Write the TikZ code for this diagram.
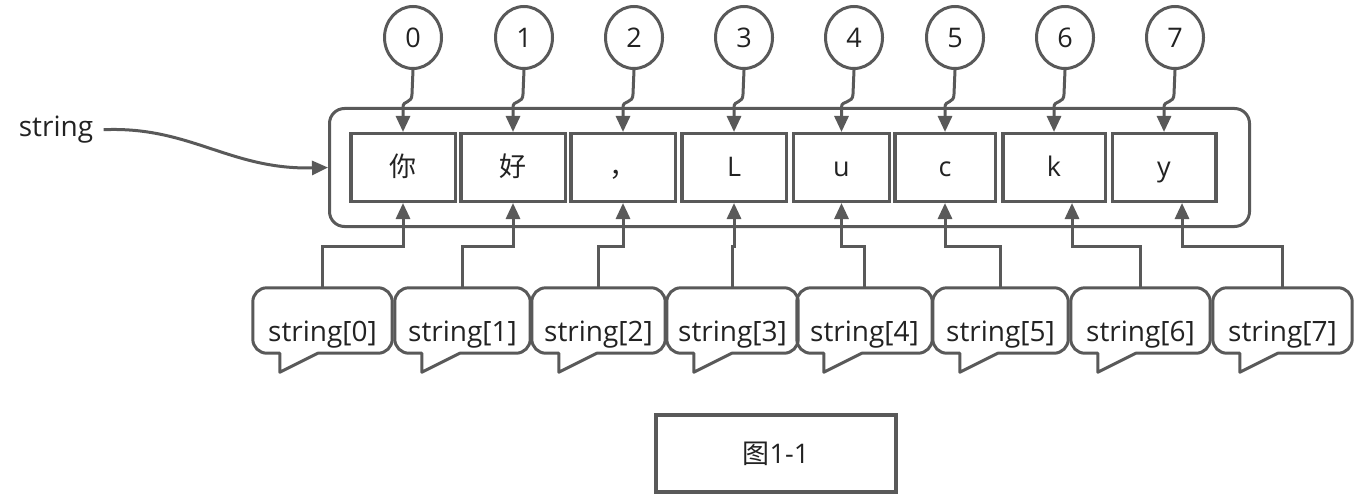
\documentclass[tikz,border=0pt]{standalone}
\usepackage{fontspec}
\setmainfont{Open Sans}
\newfontfamily\cjk{Noto Sans CJK SC}
\usetikzlibrary{arrows.meta,shapes.geometric}
\definecolor{ln}{HTML}{595959}
\definecolor{tx}{HTML}{222222}
\tikzset{
  x=1pt,y=1pt,
  every node/.style={text=tx,font=\fontsize{27}{32}\selectfont},
  idx/.style={draw=ln,line width=3pt,ellipse,minimum width=57pt,minimum height=62pt,inner sep=0pt},
  cell/.style={draw=ln,line width=3.5pt,rectangle,minimum height=67.5pt,inner sep=0pt,text height=25pt,text depth=6pt},
  frame/.style={draw=ln,line width=3pt,rectangle,rounded corners=15pt,minimum width=920pt,minimum height=118pt},
  conn/.style={draw=ln,line width=3pt,-{Triangle[length=16pt,width=14pt]}},
  bubble/.style={rectangle,minimum height=65pt,inner sep=0pt,text height=44pt,text depth=2pt,font=\fontsize{28}{32}\selectfont},
  bline/.style={draw=ln,line width=3pt,line join=round},
  capbox/.style={draw=ln,line width=4pt,rectangle,minimum width=240pt,minimum height=77pt},
}
\newcommand{\bubbleoutline}[1]{%
  \path[bline] ([xshift=14pt]#1.north west) -- ([xshift=-14pt]#1.north east)
    arc[start angle=90,end angle=0,radius=14pt] -- ([yshift=14pt]#1.south east)
    arc[start angle=0,end angle=-90,radius=14pt] -- ([xshift=65pt]#1.south west)
    -- ([xshift=27pt,yshift=-19pt]#1.south west) -- ([xshift=27pt]#1.south west)
    -- ([xshift=14pt]#1.south west)
    arc[start angle=270,end angle=180,radius=14pt] -- ([yshift=-14pt]#1.north west)
    arc[start angle=180,end angle=90,radius=14pt] -- cycle;}
\begin{document}
\begin{tikzpicture}
\useasboundingbox (0,0) rectangle (1364,-497);
% frame
\node[frame] (arr) at (789.5,-167.5) {};
% cells
\node[cell,minimum width=104.5pt] (c0) at (403,-167.5) {\cjk 你};
\node[cell,minimum width=104.5pt] (c1) at (513,-167.5) {\cjk 好};
\node[cell,minimum width=104.5pt] (c2) at (623,-167.5) {\cjk ，};
\node[cell,minimum width=104.5pt] (c3) at (734,-167.5) {L};
\node[cell,minimum width=96pt] (c4) at (841.5,-167.5) {u};
\node[cell,minimum width=100.5pt] (c5) at (945,-167.5) {c};
\node[cell,minimum width=102.5pt] (c6) at (1054,-167.5) {k};
\node[cell,minimum width=103.5pt] (c7) at (1164,-167.5) {y};
% index circles
\foreach \i/\x in {0/413,1/524,2/634,3/744,4/854,5/955,6/1065,7/1175}{
  \node[idx] (t\i) at (\x,-37.5) {\i};
  \draw[conn] (t\i.south) -- ++(-1,-24) .. controls +(0,-10) and +(0,7) .. ([yshift=25pt]c\i.north) -- (c\i.north);
}
% label string
\node[font=\fontsize{28}{32}\selectfont] (lbl) at (56,-130) {string};
\draw[conn,shorten <=7pt] (lbl.east) .. controls (190,-126) and (230,-170) .. (arr.west);
% bubbles
\foreach \i/\l/\r in {0/253/392,1/395/530,2/532/665,3/667/798,4/797/932,5/933/1068,6/1071/1210,7/1213/1352}{
  \pgfmathsetmacro{\w}{\r-\l}
  \pgfmathsetmacro{\cx}{(\r+\l)/2}
  \node[bubble,minimum width=\w pt] (s\i) at (\cx,-320.5) {string[\i]};
  \bubbleoutline{s\i}
}
% bubble connectors
\foreach \i in {0,1,2,3,4,5}{
  \draw[conn] (s\i.north) |- ([yshift=-43pt]c\i.south) -- (c\i.south);
}
\draw[conn] (s6.north) |- ([xshift=18pt,yshift=-43pt]c6.south) -- ([xshift=18pt]c6.south);
\draw[conn] (s7.north) |- ([xshift=18pt,yshift=-43pt]c7.south) -- ([xshift=18pt]c7.south);
% caption
\node[capbox] (fig) at (776,-453.5) {{\cjk 图}1-1};
\end{tikzpicture}
\end{document}
